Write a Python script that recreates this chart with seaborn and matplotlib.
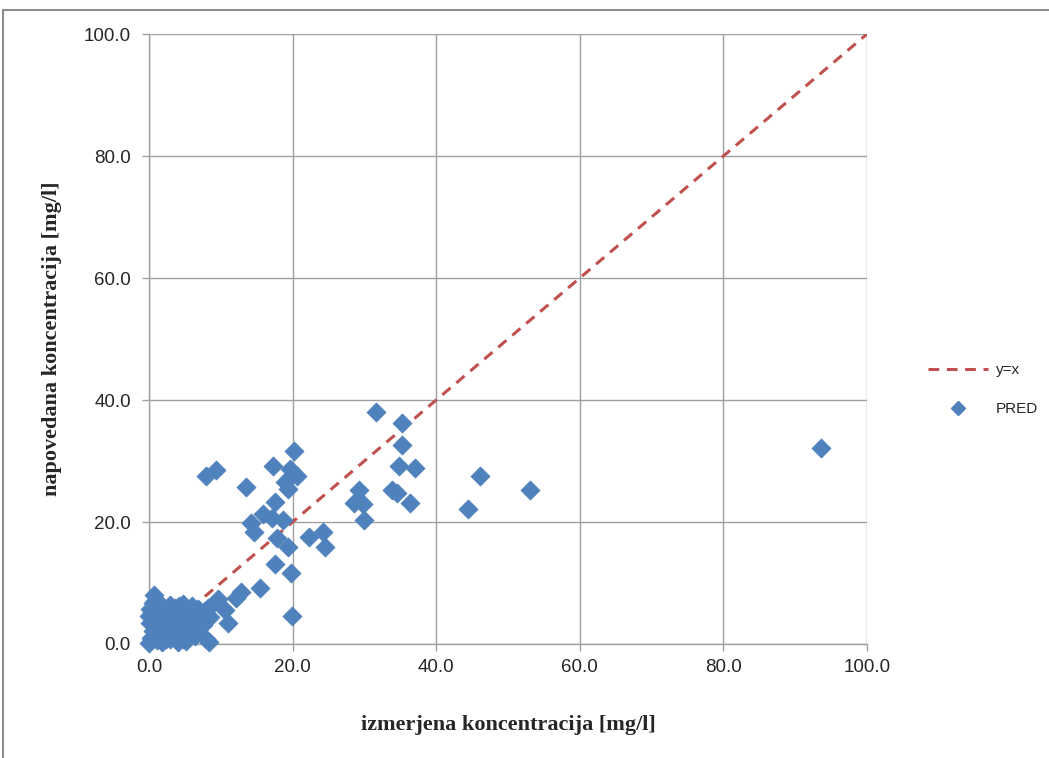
import matplotlib
matplotlib.use("Agg")
import matplotlib.pyplot as plt
import seaborn as sns
import pandas as pd
from matplotlib.lines import Line2D

# izmerjena (x) in napovedana (y) koncentracija
izmerjena = [
    0.0, 0.3, 0.5, 0.2, 0.0, 0.1, 0.6, 0.7, 1.0, 1.2, 1.5, 1.3, 1.8, 2.2, 2.5,
    2.0, 2.6, 3.0, 3.2, 3.0, 3.5, 3.8, 4.2, 4.5, 4.0, 4.8, 5.0, 5.3, 5.6, 5.5,
    6.0, 6.2, 6.6, 7.0, 7.2, 7.8, 5.2, 2.8, 1.6, 0.8, 3.6, 4.3, 1.1, 2.4, 6.8,
    4.7, 0.4, 8.2, 7.5, 6.4,
    8.3, 8.0, 8.5, 9.6, 10.6, 11.0, 12.1, 12.8, 15.5, 19.9, 17.5, 19.8,
    19.4, 24.5, 24.2, 22.3, 17.9, 14.6, 14.2, 18.7, 17.2, 15.9, 17.5, 13.5,
    19.3, 19.0, 20.6, 19.7, 17.3, 9.4, 8.0, 20.2,
    31.6, 35.2, 35.2, 34.8, 37.0, 29.2, 28.6, 29.8, 33.9, 34.5, 36.4, 30.0,
    46.1, 53.0, 44.5, 93.6,
]
napovedana = [
    0.2, 1.0, 2.2, 3.5, 4.6, 5.7, 6.8, 8.1, 7.2, 5.0, 3.0, 1.5, 0.4, 2.3, 4.1,
    6.1, 5.5, 6.4, 3.3, 0.8, 1.9, 4.8, 6.2, 2.9, 0.3, 0.9, 4.0, 5.6, 3.1, 1.7,
    6.3, 4.3, 2.6, 3.6, 4.9, 5.4, 0.5, 2.6, 4.4, 3.0, 5.9, 4.5, 0.6, 0.9, 5.8,
    6.5, 5.2, 5.9, 3.1, 1.3,
    0.4, 0.9, 4.5, 7.4, 5.5, 3.4, 7.6, 8.6, 9.1, 4.6, 13.1, 11.6,
    15.9, 15.9, 18.3, 17.5, 17.4, 18.3, 19.8, 20.3, 20.6, 21.3, 23.2, 25.8,
    25.4, 26.5, 27.6, 28.7, 29.1, 28.5, 27.6, 31.7,
    38.1, 36.2, 32.7, 29.1, 28.8, 25.3, 23.1, 22.9, 25.3, 24.8, 23.1, 20.3,
    27.5, 25.3, 22.2, 32.2,
]
premica_x = [0, 100]
premica_y = [0, 100]
ticks = [0, 20, 40, 60, 80, 100]

df = pd.DataFrame({"izmerjena": izmerjena, "napovedana": napovedana})
df_line = pd.DataFrame({"x": premica_x, "y": premica_y})

sns.set_style("white")
plt.rcParams['font.family'] = ['Liberation Sans', 'DejaVu Sans']

fig = plt.figure(figsize=(10.49, 7.58), dpi=100)
ax = fig.add_axes([0.142, 0.1504, 0.6845, 0.8047])

# okvir grafa
fig.add_artist(Line2D([0.003, 0.003], [0.0, 0.987], transform=fig.transFigure,
                      color='#8c8c8c', lw=1.5))
fig.add_artist(Line2D([0.003, 1.0], [0.987, 0.987], transform=fig.transFigure,
                      color='#8c8c8c', lw=1.5))

sns.lineplot(data=df_line, x="x", y="y", ax=ax, color='#C0504D',
             linestyle=(0, (3.5, 2.5)), linewidth=2.2, zorder=2)
sns.scatterplot(data=df, x="izmerjena", y="napovedana", ax=ax, marker='D',
                s=95, color='#4F81BD', edgecolor='#4F81BD', linewidth=0.5,
                zorder=3, clip_on=False)

ax.set_xlim(0, 100)
ax.set_ylim(0, 100)
ax.set_xticks(ticks)
ax.set_yticks(ticks)
ax.set_xticklabels([f"{t:.1f}" for t in ticks], fontsize=13.5)
ax.set_yticklabels([f"{t:.1f}" for t in ticks], fontsize=13.5)
ax.grid(True, color='#a0a0a0', linewidth=1.0)
ax.set_axisbelow(True)
ax.tick_params(axis='both', length=5, width=1, color='#a0a0a0',
               direction='out', bottom=True, left=True)
ax.tick_params(axis='y', pad=8)
ax.tick_params(axis='x', pad=6)
for side in ['top', 'right']:
    ax.spines[side].set_visible(False)
for side in ['left', 'bottom']:
    ax.spines[side].set_color('#a0a0a0')
    ax.spines[side].set_linewidth(1.0)

ax.set_xlabel("izmerjena koncentracija [mg/l]", family=['Liberation Serif'],
              fontsize=16, fontweight='bold', labelpad=28)
ax.set_ylabel("napovedana koncentracija [mg/l]", family=['Liberation Serif'],
              fontsize=16, fontweight='bold', labelpad=16)

handles = [
    Line2D([], [], color='#C0504D', linestyle=(0, (3.5, 2.5)), linewidth=2.2),
    Line2D([], [], color='#4F81BD', marker='D', linestyle='none', markersize=7),
]
ax.legend(handles, ["y=x", "PRED"], loc='center left',
          bbox_to_anchor=(1.066, 0.417), frameon=False, fontsize=11,
          handlelength=3.9, labelspacing=1.65, handletextpad=0.55)

fig.savefig("out.png", dpi=100)
